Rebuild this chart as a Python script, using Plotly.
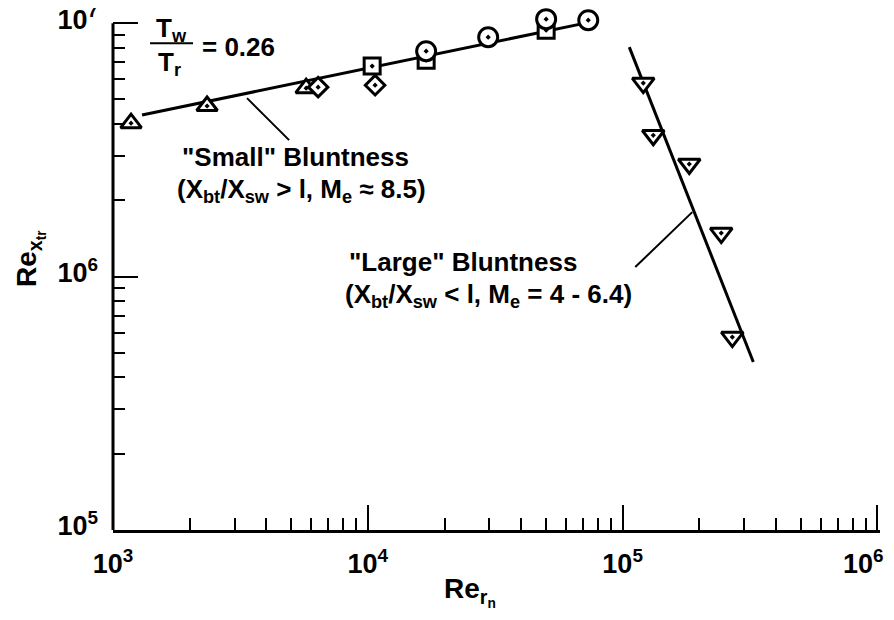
import plotly.graph_objects as go

# ---- data ----
tri_up_x = [1177, 2340, 5728]
tri_up_y = [4.03e6, 4.71e6, 5.54e6]

diamond_x = [6383, 10680]
diamond_y = [5.59e6, 5.69e6]

square_x = [10400, 16940, 50100]
square_y = [6.77e6, 7.14e6, 9.38e6]

circle_x = [16940, 29670, 50100, 73300]
circle_y = [7.75e6, 8.80e6, 1.037e7, 1.027e7]

tri_dn_x = [120500, 131900, 182600, 243800, 269400]
tri_dn_y = [5.80e6, 3.61e6, 2.78e6, 1.485e6, 5.77e5]

small_fit_x = [1300, 71300]
small_fit_y = [4.34e6, 1.0e7]

large_fit_x = [106200, 325700]
large_fit_y = [8.04e6, 4.60e5]

small_leader_x = [3357, 4910]
small_leader_y = [5.06e6, 3.455e6]

large_leader_x = [187600, 112100]
large_leader_y = [1.796e6, 1.09e6]

x_tick_vals = [1e3, 1e4, 1e5, 1e6]
x_tick_text = ["10<sup>3</sup>", "10<sup>4</sup>", "10<sup>5</sup>", "10<sup>6</sup>"]
y_tick_vals = [1e5, 1e6, 1e7]
y_tick_text = ["10<sup>5</sup>", "10<sup>6</sup>", "10<sup>7</sup>"]

FONT = "Liberation Sans"
BLACK = "#000000"

# axis ranges (log10), extended slightly so the end ticks / top markers are drawn
X_RANGE = [3, 6.01]
Y_RANGE = [5, 7.04]

# the page body has an 8px margin, so the figure is drawn 8px in from the window corner
OFF = 8
W, H = 894 - OFF, 620 - OFF
# plot area in window pixels: 10^3 at x=113, 10^6 at x=877, 10^5 at y=530, 10^7 at y=23
L = 113 - OFF
B = H - (530 - OFF)
PW = 764 * (X_RANGE[1] - X_RANGE[0]) / 3
PH = 507 * (Y_RANGE[1] - Y_RANGE[0]) / 2
R = max(W - L - PW, 0)
T = max(H - B - PH, 0)

def px_x(p):
    return (p - OFF - L) / PW

def px_y(p):
    return (H - B - (p - OFF)) / PH

fig = go.Figure()

def line_trace(x, y, w):
    fig.add_trace(go.Scatter(x=x, y=y, mode="lines",
                             line=dict(color=BLACK, width=w),
                             hoverinfo="skip", showlegend=False, cliponaxis=False))

line_trace(small_fit_x, small_fit_y, 3)
line_trace(large_fit_x, large_fit_y, 3)
line_trace(small_leader_x, small_leader_y, 2)
line_trace(large_leader_x, large_leader_y, 2)

def marker_trace(x, y, symbol, size):
    fig.add_trace(go.Scatter(x=x, y=y, mode="markers",
                             marker=dict(symbol=symbol, size=size, color="white",
                                         line=dict(color=BLACK, width=3)),
                             showlegend=False, cliponaxis=False))

marker_trace(tri_up_x, tri_up_y, "triangle-up-dot", 18)
marker_trace(diamond_x, diamond_y, "diamond-dot", 15)
marker_trace(square_x, square_y, "square-dot", 16)
marker_trace(circle_x, circle_y, "circle-dot", 19)
marker_trace(tri_dn_x, tri_dn_y, "triangle-down-dot", 19)

def ann(text, x, y, xanchor="left", size=26, angle=0):
    fig.add_annotation(text=text, x=x, y=y, xref="paper", yref="paper",
                       xanchor=xanchor, yanchor="middle", showarrow=False,
                       textangle=angle,
                       font=dict(family=FONT, size=size, color=BLACK, weight="bold"))

ann("T<sub>w</sub>", px_x(171), px_y(29), "center")
ann("T<sub>r</sub>", px_x(169), px_y(63), "center")
ann("= 0.26", px_x(200), px_y(47))
fig.add_shape(type="line", xref="paper", yref="paper",
              x0=px_x(150), x1=px_x(193), y0=px_y(43), y1=px_y(43),
              line=dict(color=BLACK, width=2))

ann('"Small" Bluntness', px_x(180), px_y(157))
ann("(X<sub>bt</sub>/X<sub>sw</sub> &gt; l, M<sub>e</sub> ≈ 8.5)", px_x(175), px_y(190))
ann('"Large" Bluntness', px_x(347), px_y(262))
ann("(X<sub>bt</sub>/X<sub>sw</sub> &lt; l, M<sub>e</sub> = 4 - 6.4)", px_x(343), px_y(295))

# axis titles
ann("Re<sub>x<sub>tr</sub></sub>", px_x(30), px_y(258), "center", size=28, angle=-90)
ann("Re<sub>r<sub>n</sub></sub>", px_x(470), px_y(592), "center", size=28)

# last x tick label sits flush against the right edge, as in the reference
ann(x_tick_text[-1], px_x(886), px_y(562), "right", size=27)
x_tick_text_axis = x_tick_text[:-1] + [""]

# y axis line only from 10^5 up to 10^7
fig.add_shape(type="line", xref="paper", yref="paper", x0=0, x1=0,
              y0=0, y1=(7 - Y_RANGE[0]) / (Y_RANGE[1] - Y_RANGE[0]),
              line=dict(color=BLACK, width=3))

tickfont = dict(family=FONT, size=27, color=BLACK, weight="bold")
minor = dict(ticks="inside", ticklen=12, tickwidth=2, tickcolor=BLACK, dtick="D1")

fig.update_xaxes(type="log", range=X_RANGE, tickvals=x_tick_vals, ticktext=x_tick_text_axis,
                 showgrid=False, zeroline=False, showline=True, linecolor=BLACK, linewidth=3,
                 ticks="inside", ticklen=25, tickwidth=2, tickcolor=BLACK,
                 tickfont=tickfont, minor=minor, automargin=False,
                 ticklabelstandoff=8)
fig.update_yaxes(type="log", range=Y_RANGE, tickvals=y_tick_vals, ticktext=y_tick_text,
                 showgrid=False, zeroline=False, showline=False,
                 ticks="inside", ticklen=25, tickwidth=2, tickcolor=BLACK,
                 tickfont=tickfont, minor=minor, automargin=False,
                 ticklabelstandoff=14, ticklabelshift=-4, ticklabeloverflow="allow")

fig.update_layout(
    width=W, height=H,
    margin=dict(l=L, r=R, t=T, b=B),
    plot_bgcolor="white", paper_bgcolor="white",
    showlegend=False,
)

fig.write_html("out.html")
